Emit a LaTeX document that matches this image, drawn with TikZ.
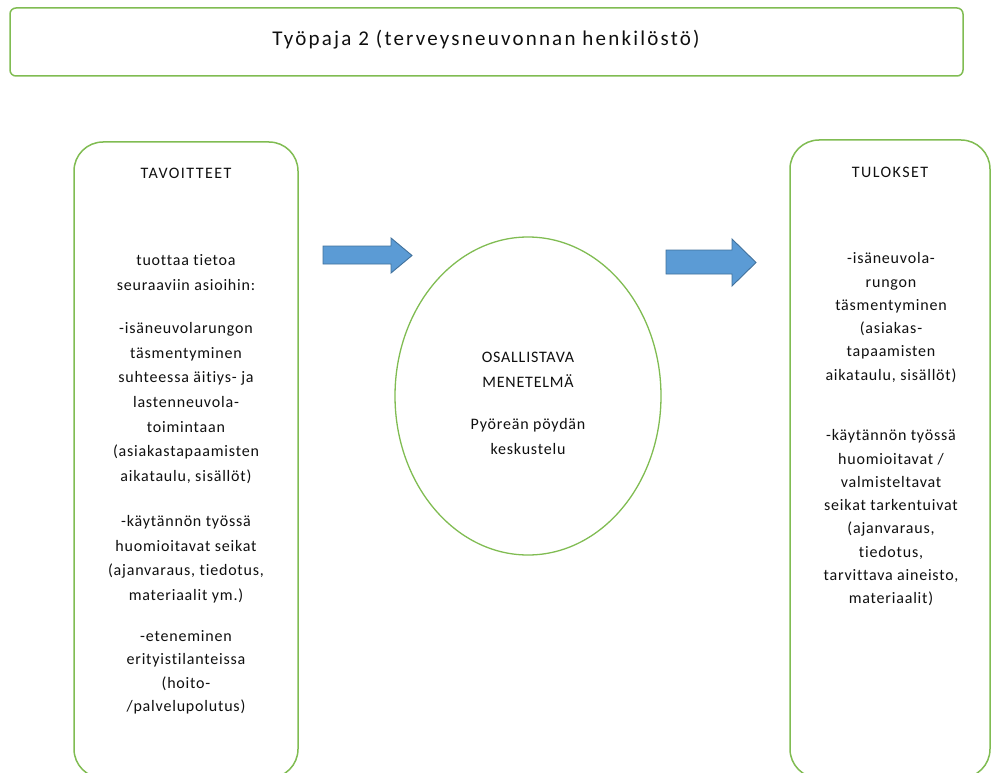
\documentclass[tikz,border=0pt]{standalone}
\usepackage{fontspec}
\setmainfont{Carlito}[LetterSpace=5,Ligatures={NoCommon}]
\begin{document}
\definecolor{framegreen}{RGB}{128,188,82}
\definecolor{arrowfill}{RGB}{91,155,213}
\definecolor{arrowline}{RGB}{65,113,156}
\definecolor{ink}{RGB}{15,15,15}
\newcommand{\firstline}{\rule{0pt}{11.5pt}}
\begin{tikzpicture}[x=1pt,y=-1pt,
  frame/.style={draw=framegreen,line width=1.5pt},
  blockarrow/.style={fill=arrowfill,draw=arrowline,line width=0.9pt,line join=miter},
  para/.style={anchor=north,align=center,inner sep=0pt,text=ink,
    font=\fontsize{16}{24.6}\selectfont},
  paraR/.style={para,font=\fontsize{16}{23.3}\selectfont},
  head/.style={anchor=center,inner sep=0pt,text=ink,
    font=\fontsize{16}{18}\selectfont\addfontfeature{LetterSpace=9}}]
\useasboundingbox (0,0) rectangle (991,773);
\clip (0,0) rectangle (991,773);

% title frame
\draw[frame,rounded corners=6pt] (10,8) rectangle (963,76);
\node[inner sep=0pt,text=ink,font=\fontsize{21}{24}\selectfont\addfontfeature{LetterSpace=10.5}]
  (title) at (486,40) {Työpaja 2 (terveysneuvonnan henkilöstö)};

% goals frame
\draw[frame,rounded corners=29pt] (74,142) rectangle (298,778);
\node[head] (goalshead) at (186,173) {TAVOITTEET};
\node[para] (g1) at (186,254) {\firstline tuottaa tietoa\\seuraaviin asioihin:};
\node[para] (g2) at (186,322) {\firstline -isäneuvolarungon\\täsmentyminen\\suhteessa äitiys- ja\\lastenneuvola-\\toimintaan\\(asiakastapaamisten\\aikataulu, sisällöt)};
\node[para] (g3) at (186,515) {\firstline -käytännön työssä\\huomioitavat seikat\\(ajanvaraus, tiedotus,\\materiaalit ym.)};
\node[para,font=\fontsize{16}{23.2}\selectfont] (g4) at (186,630) {\firstline -eteneminen\\erityistilanteissa\\(hoito-\\/palvelupolutus)};

% method ellipse
\draw[frame,line width=1.3pt] (528,396) ellipse [x radius=133, y radius=159];
\node[para] (m1) at (528,351) {\firstline OSALLISTAVA\\MENETELMÄ};
\node[para] (m2) at (528,418) {\firstline Pyöreän pöydän\\keskustelu};

% results frame
\draw[frame,rounded corners=29pt] (790,140) rectangle (990,778);
\node[head] (reshead) at (890,172) {TULOKSET};
\node[paraR] (r1) at (891,252) {\firstline -isäneuvola-\\rungon\\täsmentyminen\\(asiakas-\\tapaamisten\\aikataulu, sisällöt)};
\node[paraR] (r2) at (891,429) {\firstline -käytännön työssä\\huomioitavat /\\valmisteltavat\\seikat tarkentuivat\\(ajanvaraus,\\tiedotus,\\tarvittava aineisto,\\materiaalit)};

% block arrows between the stages
\draw[blockarrow] (323,246) -- (391,246) -- (391,238) -- (412,255.5)
  -- (391,273) -- (391,264) -- (323,264) -- cycle;
\draw[blockarrow] (666,250) -- (732,250) -- (732,239) -- (756,262.5)
  -- (732,286) -- (732,274) -- (666,274) -- cycle;
\end{tikzpicture}
\end{document}
